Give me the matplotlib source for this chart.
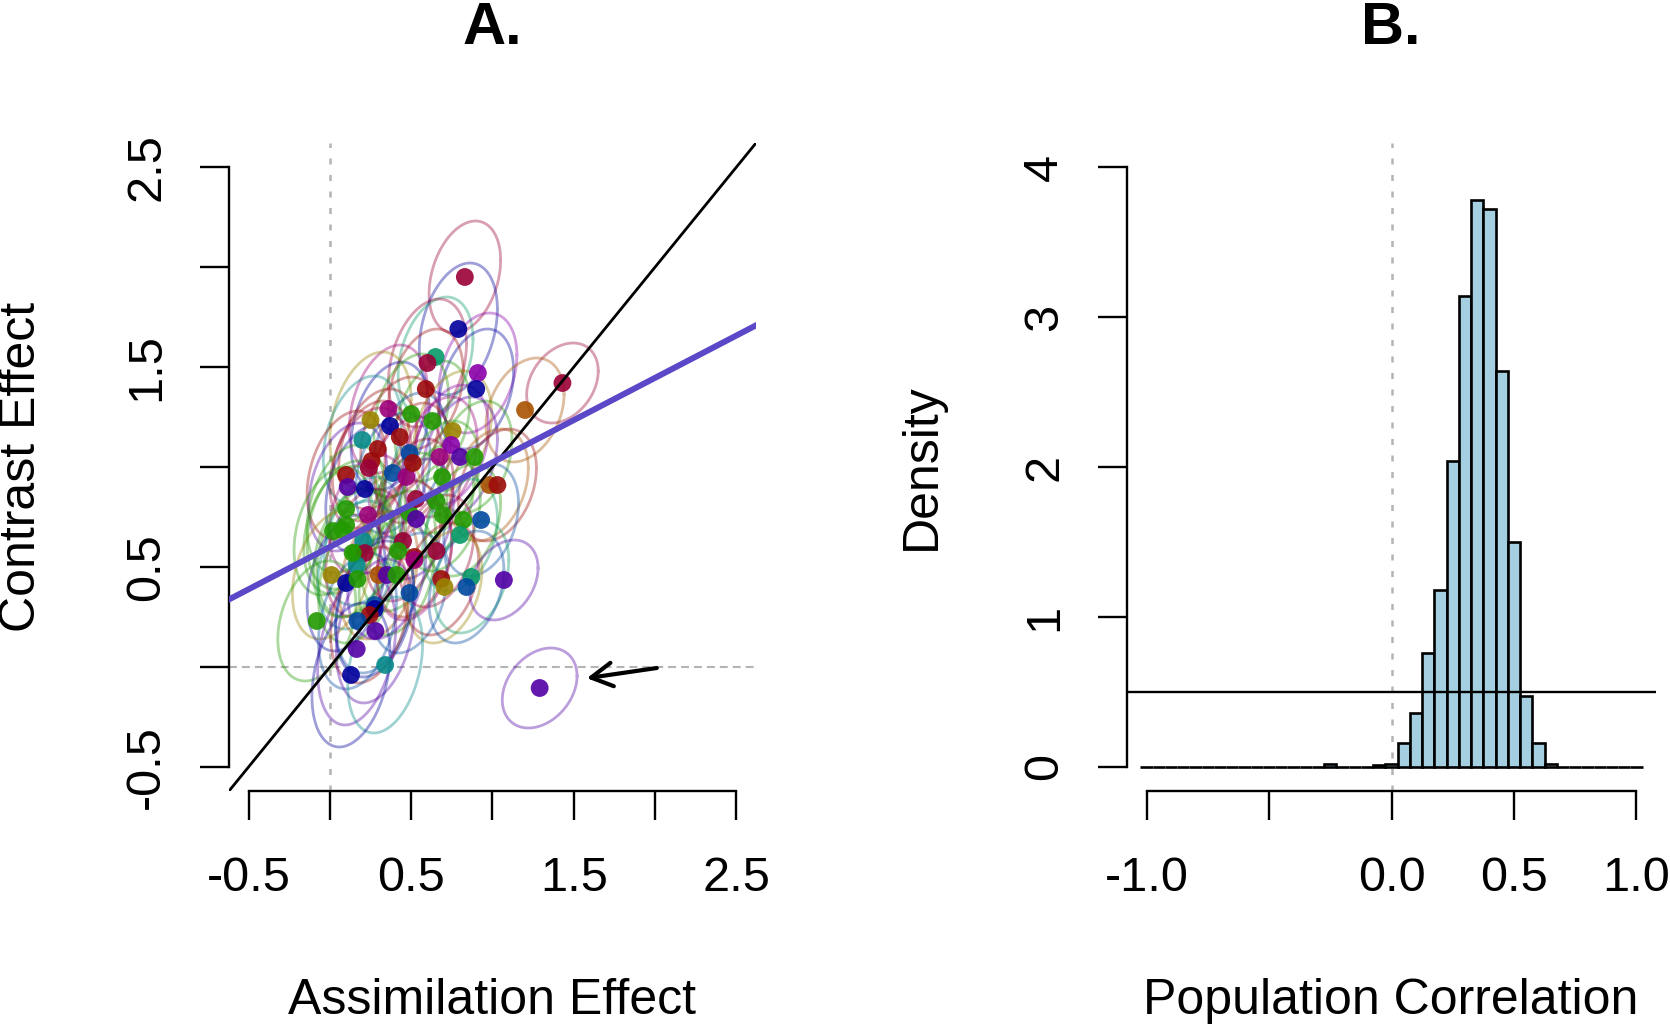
import numpy as np
import matplotlib
matplotlib.use('Agg')
import matplotlib.pyplot as plt

plt.rcParams['font.family'] = ['Liberation Sans', 'DejaVu Sans']

# ---------------- data ----------------
palette = {
    'cr': '#9A0036', 'dr': '#9C0A0A', 'or': '#A85200', 'ol': '#9A8400',
    'gr': '#229A00', 'tg': '#089A68', 'te': '#068A8A', 'bl': '#0048A0',
    'db': '#00009C', 'pu': '#5200A4', 'mp': '#8A00AA', 'mg': '#9C007A',
}

assim = [0.83, 0.79, 0.65, 0.60, 0.91, 0.90, 0.59, 1.43, 1.20, 0.36,
         0.25, 0.37, 0.50, 0.63, 0.755, 0.20, 0.43, 0.295, 0.256, 0.24,
         0.387, 0.47, 0.49, 0.51, 0.10, 0.11, 0.215, 0.746, 0.675, 0.80,
         0.89, 0.69, 0.98, 1.03, 0.10, 0.235, 0.08, 0.02, 0.205, 0.16,
         0.215, 0.165, 0.45, 0.42, 0.52, 0.49, 0.53, 0.01, 0.10, 0.17,
         0.30, 0.35, 0.41, 0.49, 0.275, 0.655, 0.695, 0.82, 0.93, 0.80,
         0.655, 0.52, 0.685, 0.705, 0.87, 0.84, 1.07, -0.08, 0.276, 0.245,
         0.17, 0.28, 0.165, 0.34, 0.13, 1.29, 0.53, 0.10, 0.14]
contrast = [1.95, 1.69, 1.55, 1.52, 1.47, 1.39, 1.39, 1.42, 1.285, 1.29,
            1.235, 1.205, 1.265, 1.23, 1.18, 1.135, 1.15, 1.09, 1.03, 0.995,
            0.97, 0.95, 1.07, 1.02, 0.96, 0.90, 0.89, 1.11, 1.05, 1.05,
            1.05, 0.95, 0.91, 0.91, 0.79, 0.76, 0.685, 0.68, 0.63, 0.57,
            0.57, 0.51, 0.63, 0.58, 0.55, 0.77, 0.74, 0.46, 0.42, 0.44,
            0.46, 0.46, 0.46, 0.37, 0.31, 0.83, 0.76, 0.735, 0.735, 0.66,
            0.58, 0.535, 0.44, 0.40, 0.45, 0.40, 0.435, 0.23, 0.29, 0.26,
            0.23, 0.18, 0.09, 0.01, -0.04, -0.105, 0.84, 0.71, 0.57]
colors = ['cr', 'db', 'tg', 'cr', 'mp', 'db', 'dr', 'cr', 'or', 'mg',
          'ol', 'db', 'gr', 'gr', 'ol', 'te', 'dr', 'dr', 'dr', 'cr',
          'bl', 'mg', 'bl', 'dr', 'dr', 'pu', 'db', 'mp', 'mg', 'pu',
          'gr', 'gr', 'or', 'dr', 'gr', 'mg', 'gr', 'gr', 'te', 'gr',
          'cr', 'te', 'cr', 'gr', 'dr', 'gr', 'pu', 'ol', 'db', 'gr',
          'or', 'pu', 'gr', 'bl', 'bl', 'gr', 'gr', 'gr', 'bl', 'tg',
          'cr', 'mg', 'dr', 'ol', 'tg', 'bl', 'pu', 'gr', 'db', 'dr',
          'bl', 'pu', 'pu', 'te', 'db', 'pu', 'cr', 'gr', 'gr']
# ellipse half-extents (x, y) per participant
ell_w = [0.22, 0.24, 0.23, 0.24, 0.24, 0.23, 0.23, 0.22, 0.24, 0.24,
         0.25, 0.24, 0.23, 0.23, 0.24, 0.24, 0.24, 0.24, 0.24, 0.24,
         0.23, 0.23, 0.23, 0.23, 0.24, 0.24, 0.24, 0.23, 0.23, 0.23,
         0.23, 0.23, 0.24, 0.24, 0.24, 0.24, 0.24, 0.24, 0.24, 0.24,
         0.24, 0.24, 0.23, 0.23, 0.23, 0.23, 0.23, 0.24, 0.24, 0.24,
         0.24, 0.24, 0.23, 0.23, 0.24, 0.23, 0.23, 0.23, 0.23, 0.23,
         0.23, 0.23, 0.23, 0.23, 0.23, 0.23, 0.21, 0.24, 0.24, 0.24,
         0.24, 0.24, 0.24, 0.23, 0.24, 0.23, 0.23, 0.24, 0.24]
ell_h = [0.28, 0.33, 0.30, 0.32, 0.30, 0.30, 0.30, 0.20, 0.26, 0.32,
         0.34, 0.32, 0.30, 0.30, 0.30, 0.32, 0.30, 0.30, 0.30, 0.30,
         0.30, 0.30, 0.30, 0.30, 0.32, 0.32, 0.32, 0.30, 0.30, 0.30,
         0.28, 0.28, 0.28, 0.28, 0.32, 0.30, 0.32, 0.32, 0.32, 0.32,
         0.32, 0.32, 0.30, 0.30, 0.30, 0.30, 0.30, 0.32, 0.34, 0.32,
         0.32, 0.32, 0.30, 0.30, 0.34, 0.28, 0.28, 0.28, 0.28, 0.28,
         0.28, 0.30, 0.28, 0.28, 0.28, 0.28, 0.20, 0.30, 0.34, 0.34,
         0.34, 0.36, 0.38, 0.34, 0.36, 0.20, 0.30, 0.32, 0.32]
ell_rho = 0.3

reg_intercept, reg_slope = 0.60, 0.423
arrow_from = (2.01, -0.005)
arrow_to = (1.58, -0.056)

# histogram of population correlation
bin_edges = [round(-1.025 + 0.05 * k, 3) for k in range(42)]
density = [0, 0, 0, 0, 0, 0, 0, 0, 0, 0,
           0, 0, 0, 0, 0, 0.02, 0, 0, 0, 0.015,
           0.02, 0.16, 0.36, 0.76, 1.18, 2.04, 3.14, 3.78, 3.72, 2.64,
           1.50, 0.475, 0.16, 0.02, 0, 0, 0, 0, 0, 0,
           0]

A_ticks = [-0.5, 0.0, 0.5, 1.0, 1.5, 2.0, 2.5]
A_ticklabels = ['-0.5', '', '0.5', '', '1.5', '', '2.5']
B_xticks = [-1.0, -0.5, 0.0, 0.5, 1.0]
B_xticklabels = ['-1.0', '', '0.0', '0.5', '1.0']
B_yticks = [0, 1, 2, 3, 4]
B_yticklabels = ['0', '1', '2', '3', '4']

# ---------------- figure ----------------
FW, FH = 1670, 1030
fig = plt.figure(figsize=(FW / 100, FH / 100), dpi=100)


def rect(l, t, r, b):
    return [l / FW, 1 - b / FH, (r - l) / FW, (b - t) / FH]


axA = fig.add_axes(rect(229, 143, 756, 791))
axB = fig.add_axes(rect(1127, 143, 1656, 791))

TICK_FS = 35
LAB_FS = 36


def r_style(ax, xb, yb):
    for s in ['top', 'right']:
        ax.spines[s].set_visible(False)
    ax.spines['left'].set_bounds(*yb)
    ax.spines['bottom'].set_bounds(*xb)
    for s in ['left', 'bottom']:
        ax.spines[s].set_linewidth(1.7)
    ax.tick_params(axis='both', direction='out', length=21, width=1.7,
                   labelsize=TICK_FS)
    ax.tick_params(axis='x', pad=26)
    ax.tick_params(axis='y', pad=22)


# ---- Panel A ----
ax = axA
ax.set_xlim(-0.62, 2.62)
ax.set_ylim(-0.62, 2.62)
ax.axvline(0, color='#B4B4B4', lw=1.8, ls=(0, (2.4, 4.2)), zorder=1)
ax.axhline(0, color='#B4B4B4', lw=1.5, ls=(0, (3.8, 2.4)), zorder=1)

t = np.linspace(0, 2 * np.pi, 200)
for xi, yi, ci, wi, hi in zip(assim, contrast, colors, ell_w, ell_h):
    cov = np.array([[wi ** 2, ell_rho * wi * hi], [ell_rho * wi * hi, hi ** 2]])
    L = np.linalg.cholesky(cov)
    pts = L @ np.vstack([np.cos(t), np.sin(t)])
    ax.plot(xi + pts[0], yi + pts[1], color=palette[ci], alpha=0.38,
            lw=2.0, zorder=2)

ax.scatter(assim, contrast, s=165, c=[palette[c] for c in colors],
           alpha=0.9, linewidths=0, zorder=3)

ax.axline((0, 0), slope=1, color='black', lw=2.0, zorder=4)
ax.axline((0, reg_intercept), slope=reg_slope, color='#5A48C8', lw=4.3,
          zorder=5)
ax.annotate('', xy=arrow_to, xytext=arrow_from,
            arrowprops=dict(arrowstyle='->,head_length=0.45,head_width=0.25',
                            lw=3.0, color='black', mutation_scale=34,
                            shrinkA=0, shrinkB=0), zorder=6)

r_style(ax, (-0.5, 2.5), (-0.5, 2.5))
ax.set_xticks(A_ticks)
ax.set_xticklabels(A_ticklabels)
ax.set_yticks(A_ticks)
ax.set_yticklabels(A_ticklabels, rotation=90, va='center')

# ---- Panel B ----
ax = axB
ax.set_xlim(-1.08, 1.08)
ax.set_ylim(-0.16, 4.16)
ax.axvline(0, color='#B4B4B4', lw=1.8, ls=(0, (2.4, 4.2)), zorder=1)
widths = np.diff(bin_edges)
ax.bar(bin_edges[:-1], density, width=widths, align='edge',
       color='#A3CFE0', edgecolor='black', linewidth=1.9, zorder=2)
ax.axhline(0.5, color='black', lw=1.7, zorder=3)

r_style(ax, (-1.0, 1.0), (0, 4))
ax.set_xticks(B_xticks)
ax.set_xticklabels(B_xticklabels)
ax.set_yticks(B_yticks)
ax.set_yticklabels(B_yticklabels, rotation=90, va='center')

# ---- titles & labels ----
fig.text(492 / FW, 1 - 28 / FH, 'A.', fontsize=43, fontweight='bold',
         ha='center', va='center')
fig.text(1391 / FW, 1 - 28 / FH, 'B.', fontsize=43, fontweight='bold',
         ha='center', va='center')
fig.text(492 / FW, 1 - 1001 / FH, 'Assimilation Effect', fontsize=LAB_FS,
         ha='center', va='center')
fig.text(1391 / FW, 1 - 1001 / FH, 'Population Correlation', fontsize=LAB_FS,
         ha='center', va='center')
fig.text(22 / FW, 1 - 467 / FH, 'Contrast Effect', fontsize=LAB_FS,
         rotation=90, ha='center', va='center')
fig.text(922 / FW, 1 - 467 / FH, 'Density', fontsize=LAB_FS,
         rotation=90, ha='center', va='center')

fig.savefig('out.png', dpi=100)
